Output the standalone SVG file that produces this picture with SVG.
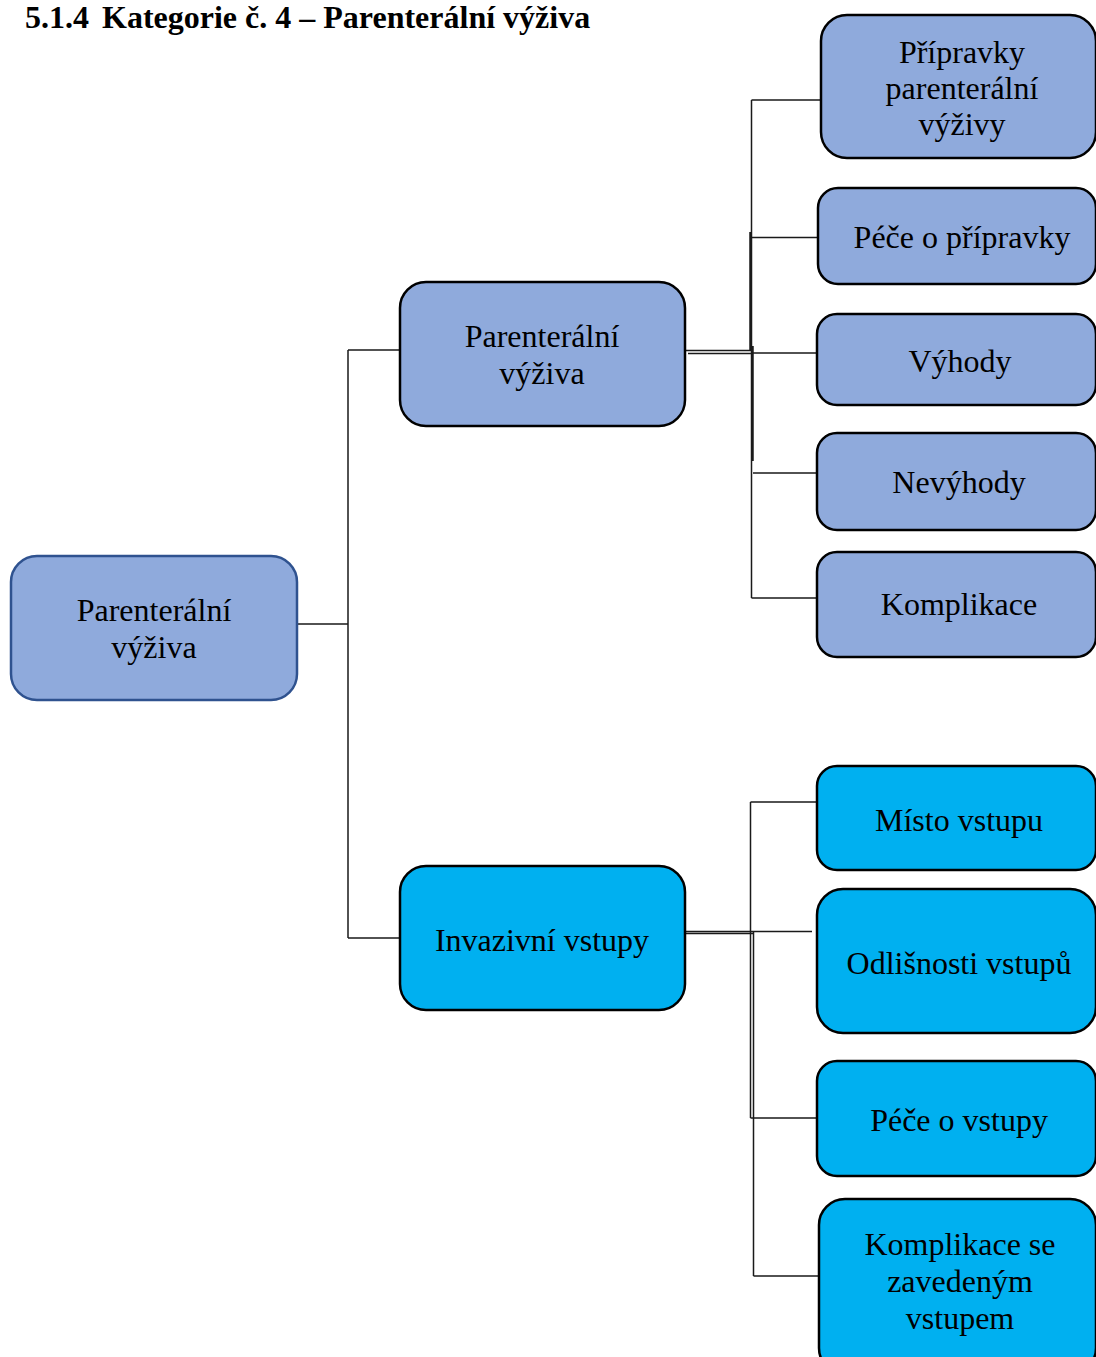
<svg xmlns="http://www.w3.org/2000/svg" width="1096" height="1357" viewBox="0 0 1096 1357">
<style>
.t{font-family:"Liberation Serif","Times New Roman",serif;font-size:32px;fill:#000;text-anchor:middle}
.h{font-family:"Liberation Serif","Times New Roman",serif;font-size:32px;font-weight:bold;fill:#000}
.a{fill:#8FAADC;stroke:#000;stroke-width:2.5}
.b{fill:#00B0F0;stroke:#000;stroke-width:2.5}
.c{fill:none;stroke:#1a1a1a;stroke-width:1.5}
</style>
<rect width="1096" height="1357" fill="#fff"/>
<text class="h" x="25" y="28">5.1.4</text>
<text class="h" x="102" y="28">Kategorie č. 4 – Parenterální výživa</text>

<g id="connectors">
<path class="c" d="M297 624H348M348 350V938M348 350H400M348 938H400"/>
<path class="c" d="M685 350.5H751M688 353.5H752M751.5 100V598M750 232V351M753 346V461"/>
<path class="c" d="M751.5 100H822M751.5 237.5H818M751.5 353H817M753 473H817M751.5 598H818"/>
<path class="c" d="M675 931.5H812M685 933.5H753M750.5 802V1118M753.5 932V1276"/>
<path class="c" d="M750.5 802H817M750.5 1118H817M753.5 1276H820"/>
</g>

<g id="root">
<rect x="11" y="556" width="286" height="144" rx="26" fill="#8FAADC" stroke="#2F528F" stroke-width="2.5"/>
<text class="t" x="154" y="621">Parenterální</text>
<text class="t" x="154" y="658">výživa</text>
</g>

<g id="n-parenteralni">
<rect class="a" x="400" y="282" width="285" height="144" rx="26"/>
<text class="t" x="542" y="347">Parenterální</text>
<text class="t" x="542" y="384">výživa</text>
</g>

<g id="n-invazivni">
<rect class="b" x="400" y="866" width="285" height="144" rx="26"/>
<text class="t" x="542" y="951">Invazivní vstupy</text>
</g>

<g id="n-pripravky">
<rect class="a" x="821" y="15" width="275" height="143" rx="26"/>
<text class="t" x="962" y="63">Přípravky</text>
<text class="t" x="962" y="99">parenterální</text>
<text class="t" x="962" y="135">výživy</text>
</g>

<g id="n-pece-pripravky">
<rect class="a" x="818" y="188" width="278" height="96" rx="20"/>
<text class="t" x="962" y="248">Péče o přípravky</text>
</g>

<g id="n-vyhody">
<rect class="a" x="817" y="314" width="279" height="91" rx="20"/>
<text class="t" x="960" y="372">Výhody</text>
</g>

<g id="n-nevyhody">
<rect class="a" x="817" y="433" width="279" height="97" rx="20"/>
<text class="t" x="959" y="493">Nevýhody</text>
</g>

<g id="n-komplikace">
<rect class="a" x="817" y="552" width="279" height="105" rx="20"/>
<text class="t" x="959" y="615">Komplikace</text>
</g>

<g id="n-misto">
<rect class="b" x="817" y="766" width="279" height="104" rx="20"/>
<text class="t" x="959" y="831">Místo vstupu</text>
</g>

<g id="n-odlisnosti">
<rect class="b" x="817" y="889" width="279" height="144" rx="26"/>
<text class="t" x="959" y="974">Odlišnosti vstupů</text>
</g>

<g id="n-pece-vstupy">
<rect class="b" x="817" y="1061" width="279" height="115" rx="20"/>
<text class="t" x="959" y="1131">Péče o vstupy</text>
</g>

<g id="n-komplikace-vstup">
<rect class="b" x="819" y="1199" width="277" height="175" rx="26"/>
<text class="t" x="960" y="1255">Komplikace se</text>
<text class="t" x="960" y="1292">zavedeným</text>
<text class="t" x="960" y="1329">vstupem</text>
</g>
</svg>
